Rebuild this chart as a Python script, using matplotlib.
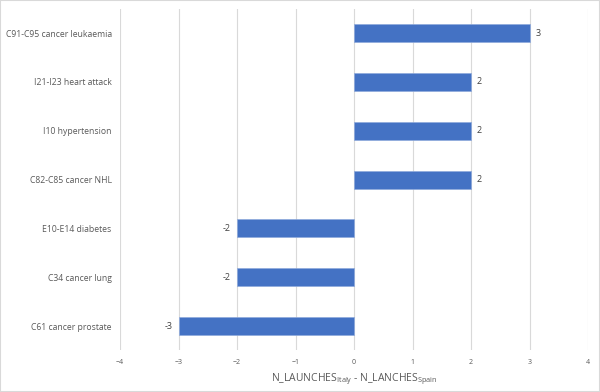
import numpy as np
import matplotlib.pyplot as plt
from matplotlib.patches import Rectangle

categories = ['C91-C95 cancer leukaemia', 'I21-I23 heart attack', 'I10 hypertension',
              'C82-C85 cancer NHL', 'E10-E14 diabetes', 'C34 cancer lung', 'C61 cancer prostate']
diff = [3, 2, 2, 2, -2, -2, -3]
xticks = [-4, -3, -2, -1, 0, 1, 2, 3, 4]

plt.rcParams['font.family'] = ['Open Sans', 'DejaVu Sans']
plt.rcParams['mathtext.default'] = 'regular'

fig = plt.figure(figsize=(6, 3.92), dpi=100)
fig.patches.append(Rectangle((0, 0), 1, 1, transform=fig.transFigure, fill=False,
                             edgecolor='#d9d9d9', linewidth=1.5))
ax = fig.add_axes([0.2, 0.106, 0.78, 0.872])

y = np.arange(len(categories))
ax.barh(y, diff, height=0.37, color='#4472C4', edgecolor='#8faadc', linewidth=0.5, zorder=3)
# data labels just outside the bar ends
for yi, v in zip(y, diff):
    ha = 'left' if v > 0 else 'right'
    off = 6 if v > 0 else -6
    ax.annotate(str(v), (v, yi), xytext=(off, 0), textcoords='offset pixels',
                ha=ha, va='center', fontsize=6.5, color='#404040')

ax.set_ylim(len(categories) - 0.5, -0.5)
ax.set_xlim(-4, 4)
ax.set_xticks(xticks)
ax.set_yticks(y)
ax.set_yticklabels(categories)
ax.grid(axis='x', color='#d9d9d9', linewidth=0.8, zorder=0)
for s in ax.spines.values():
    s.set_visible(False)
ax.tick_params(axis='both', length=0, colors='#595959')
ax.tick_params(axis='y', labelsize=6.2, pad=6)
ax.tick_params(axis='x', labelsize=5, pad=6)
ax.set_xlabel(r'N_LAUNCHES$_{Italy}$ - N_LANCHES$_{Spain}$', fontsize=7.5, color='#595959', labelpad=4)

fig.savefig('out.png', dpi=100)
